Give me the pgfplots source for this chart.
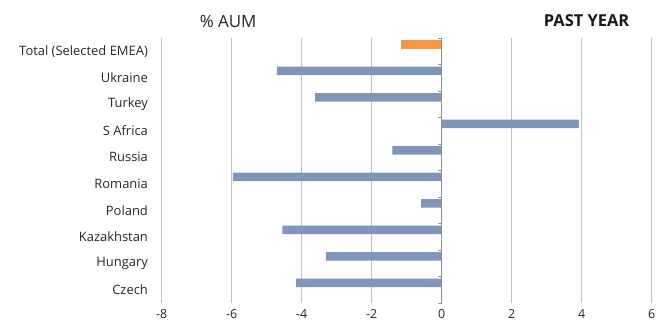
\documentclass[border=0pt]{standalone}
\usepackage{pgfplots}
\pgfplotsset{compat=1.18}
\usepackage{fontspec}
\setmainfont{Open Sans}
\definecolor{barblue}{HTML}{7F96BA}
\definecolor{barorange}{HTML}{F79646}
\definecolor{gridgray}{HTML}{BFBFBF}
\definecolor{axgray}{HTML}{8C8C8C}
\begin{document}
\begin{tikzpicture}
\path[use as bounding box] (-161.7bp,-29bp) rectangle (508.3bp,303bp);
\begin{axis}[
  at={(0,0)}, anchor=south west,
  scale only axis, width=490bp, height=265bp,
  xmin=-8, xmax=6, ymin=-0.5, ymax=9.5,
  y dir=reverse,
  xtick={-8,-6,...,6},
  ytick={0,...,9},
  yticklabels={Total (Selected EMEA),Ukraine,Turkey,S Africa,Russia,Romania,Poland,Kazakhstan,Hungary,Czech},
  tick style={draw=none},
  axis line style={draw=none},
  xmajorgrids, major grid style={gridgray, line width=1.1bp},
  /pgf/number format/assume math mode=true,
  xticklabel style={font=\fontsize{12.5}{14}\selectfont, text=black!85, yshift=-3bp},
  yticklabel style={font=\fontsize{13}{15}\selectfont, text=black!85, xshift=-6bp},
  xbar, bar width=8.5bp, bar shift=7bp,
  clip=false,
]
\addplot[fill=barblue, draw=none] coordinates {
(-4.71,1) (-3.62,2) (3.92,3) (-1.41,4) (-5.97,5) (-0.59,6) (-4.55,7) (-3.31,8) (-4.16,9)};
\addplot[fill=barorange, draw=none, bar shift=7bp] coordinates {(-1.16,0)};
\draw[axgray, line width=1.1bp] (axis cs:0,-0.5) -- (axis cs:0,9.5);
\pgfplotsinvokeforeach{-0.5,0.5,1.5,2.5,3.5,4.5,5.5,6.5,7.5,8.5,9.5}{
  \draw[axgray, line width=1bp] (axis cs:0,#1) -- ([xshift=-3.5bp]axis cs:0,#1);
}
\node[font=\fontsize{17}{19}\selectfont, text=black!85] at (axis cs:-6.1,-0.5) [yshift=17bp] {\% AUM};
\node[font=\fontsize{16.5}{19}\selectfont\bfseries, text=black!90] at (axis cs:4.14,-0.5) [yshift=17bp] {PAST YEAR};
\end{axis}
\end{tikzpicture}
\end{document}
